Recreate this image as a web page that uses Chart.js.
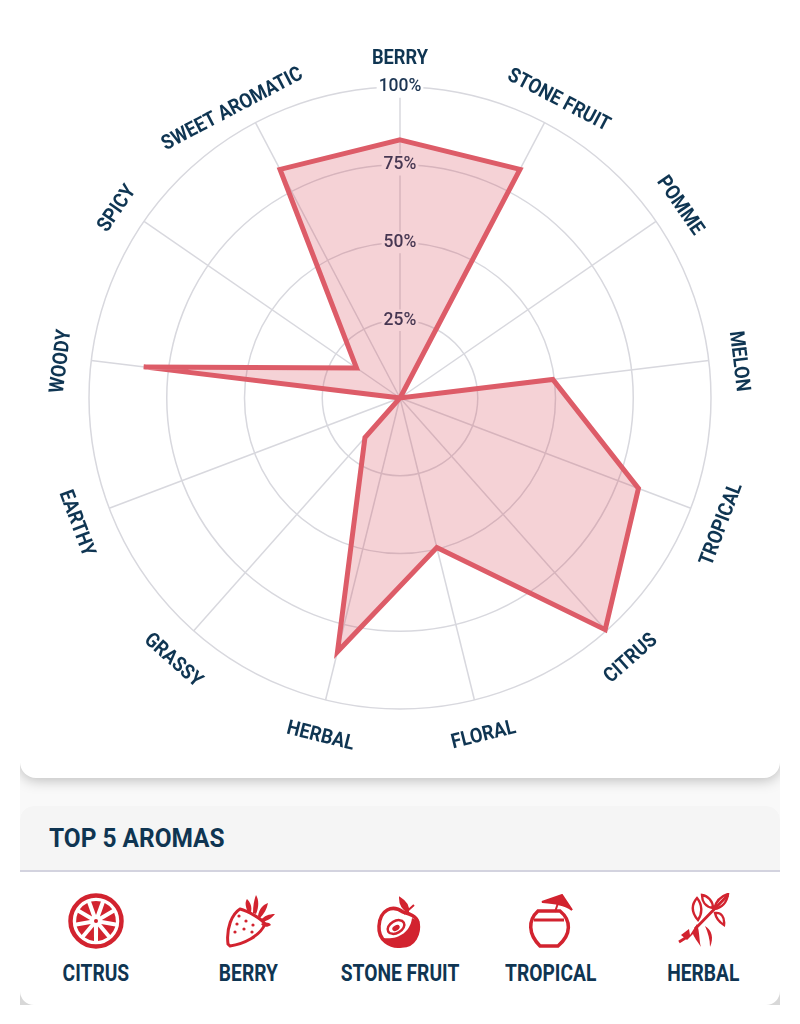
<!DOCTYPE html>
<html>
<head>
<meta charset="utf-8">
<title>Aroma wheel</title>
<script src="https://cdn.jsdelivr.net/npm/chart.js@4"></script>
<style>
  html, body { margin: 0; background: #fff; }
  body { width: 800px; height: 1024px; position: relative; overflow: hidden; font-family: Roboto, sans-serif; }
  .clip { position: absolute; left: 20px; top: 0; width: 760px; height: 1005px; overflow: hidden; background: linear-gradient(#f9f9f9 0 900px, #d8d8d8 900px); }
  .card { position: absolute; left: 0; top: -20px; width: 760px; height: 798px; background: #fff; border-radius: 16px; box-shadow: 0 2px 14px rgba(0, 0, 0, .26); }
  canvas { position: absolute; left: 0; top: 0; }
  .panel { position: absolute; left: 0; top: 806px; width: 760px; height: 199px; background: #fff; border-radius: 14px; overflow: hidden; }
  .head { height: 64px; background: #f5f5f5; border-bottom: 2px solid #d3d3df; }
  .head span { position: absolute; left: 29px; top: 17px; font-size: 26px; line-height: 30px; font-weight: 700; color: #0f3552; transform: scaleX(.94); transform-origin: left center; white-space: nowrap; }
  .aroma { position: absolute; top: 155px; width: 152px; text-align: center; font-size: 23px; line-height: 26px; font-weight: 700; color: #0f3552; }
  .aroma span { display: inline-block; transform: scaleX(.835); white-space: nowrap; }
  svg.icon { position: absolute; left: 0; top: 0; }
</style>
</head>
<body>
<div class="clip">
  <div class="card"></div>
  <div class="panel" id="panel"><div class="head"><span>TOP 5 AROMAS</span></div></div>
</div>
<canvas id="wheel" width="800" height="796"></canvas>
<script>
const categories = ['BERRY', 'STONE FRUIT', 'POMME', 'MELON', 'TROPICAL', 'CITRUS', 'FLORAL', 'HERBAL', 'GRASSY', 'EARTHY', 'WOODY', 'SPICY', 'SWEET AROMATIC'];
const aromaValues = [83, 83, 0, 49.5, 82, 99.5, 49.5, 84, 17, 0, 83, 17, 83];
const topAromas = ['CITRUS', 'BERRY', 'STONE FRUIT', 'TROPICAL', 'HERBAL'];

const navy = '#0f3552';

// small hand corrections so the rotated names sit where the reference has them
const labelNudge = {
  BERRY: [0, -3],
  POMME: [-1, -3],
  TROPICAL: [3, 1],
  CITRUS: [5, 1],
  FLORAL: [2, 2],
  HERBAL: [2, 3],
  GRASSY: [-1, 3],
  EARTHY: [-5, 0],
  SPICY: [-2, 0],
  'SWEET AROMATIC': [-9, 9],
};

// rotated category names, chart.js only does horizontal point labels
const rotatedLabels = {
  id: 'rotatedLabels',
  afterDraw(chart) {
    const scale = chart.scales.r;
    const ctx = chart.ctx;
    const step = 360 / categories.length;
    categories.forEach((name, i) => {
      const pos = scale.getPointPosition(i, scale.drawingArea + 30);
      const nudge = labelNudge[name] || [0, 0];
      const deg = i * step;
      const rot = deg > 90 && deg < 270 ? deg - 180 : deg;
      ctx.save();
      ctx.translate(pos.x + nudge[0], pos.y + 4.5 + nudge[1]);
      ctx.rotate(rot * Math.PI / 180);
      ctx.scale(0.89, 1);
      ctx.font = '700 20.5px Roboto';
      ctx.fillStyle = navy;
      ctx.textAlign = 'center';
      ctx.textBaseline = 'middle';
      ctx.fillText(name, 0, 0);
      ctx.restore();
    });
  },
};

new Chart(document.getElementById('wheel'), {
  type: 'radar',
  plugins: [rotatedLabels],
  data: {
    labels: categories,
    datasets: [{
      data: aromaValues,
      borderColor: '#dd5c68',
      backgroundColor: 'rgba(212, 62, 76, 0.23)',
      borderWidth: 5,
      borderJoinStyle: 'miter',
      pointRadius: 0,
      tension: 0,
    }],
  },
  options: {
    responsive: false,
    animation: false,
    layout: { padding: { top: 76, bottom: 75 } },
    plugins: { legend: { display: false }, tooltip: { enabled: false } },
    scales: {
      r: {
        min: 0,
        max: 100,
        ticks: {
          stepSize: 25,
          color: '#1c3553',
          font: { family: 'Roboto', size: 17.5, weight: '500' },
          backdropColor: '#fff',
          backdropPadding: 2,
          callback: (v) => v + '%',
        },
        grid: { circular: true, color: '#d8d8de', lineWidth: 1.5 },
        angleLines: { color: '#d8d8de', lineWidth: 1.5 },
        pointLabels: { display: false },
      },
    },
  },
});

function citrusIcon() {
  let wedges = '';
  for (let i = 0; i < 9; i++) {
    const a = (i * 40 - 90) * Math.PI / 180;
    const d = 0.25;
    const pt = (r, t) => `${(28 + r * Math.cos(t)).toFixed(1)} ${(28 + r * Math.sin(t)).toFixed(1)}`;
    wedges += `<path d="M${pt(6, a)} L${pt(20, a - d)} A20 20 0 0 1 ${pt(20, a + d)} Z" fill="#d2232f"/>`;
  }
  return `<circle cx="28" cy="28" r="25.5" fill="none" stroke="#d2232f" stroke-width="4.5"/>${wedges}<circle cx="28" cy="28" r="2" fill="#d2232f"/>`;
}

const icons = [
  citrusIcon(),
  '<path d="M4 50 C2 34 8 20 16 15 C24 17 38 25 41 30 C36 42 20 50 6 52 Z" fill="none" stroke="#d2232f" stroke-width="3"/>' +
    [[15, 22], [22, 27], [29, 31], [13, 30], [20, 35], [28, 38], [11, 38]].map((p) => `<circle cx="${p[0]}" cy="${p[1]}" r="1.6" fill="#d2232f"/>`).join('') +
    '<path d="M24 18 C21 12 21 8 23 5 C27 9 28 13 27 18 Z M29 19 C29 12 30 6 32 1 C35 6 35 13 32 20 Z M34 22 C35 16 38 11 44 9 C43 15 40 20 36 24 Z M37 26 C40 22 45 20 51 20 C47 25 43 27 38 28 Z M37 30 C41 28 45 28 47 31 C43 34 39 33 37 30 Z" fill="#d2232f"/>',
  '<path d="M27 18 C16 10 4 16 3 32 C2 46 14 54 26 52 C38 52 44 40 42 28 C40 22 34 20 27 18 Z" fill="none" stroke="#d2232f" stroke-width="3.5"/>' +
    '<path d="M42 27 C44 40 38 53 25 52 C16 52 10 48 7 44 C20 46 34 40 36 24 Z" fill="#d2232f"/>' +
    '<ellipse cx="20" cy="33" rx="9" ry="6" transform="rotate(-30 20 33)" fill="none" stroke="#d2232f" stroke-width="2.5"/>' +
    '<ellipse cx="20" cy="34" rx="4" ry="2.5" transform="rotate(-30 20 34)" fill="#d2232f"/>' +
    '<path d="M24 4 C29 7 33 11 32 18 C27 15 24 10 24 4 Z M28 20 L38 11" fill="#d2232f" stroke="#d2232f" stroke-width="2"/>',
  '<path d="M13 17 H35 C46 26 47 40 33 52 H15 C3 40 3 26 13 17 Z" fill="none" stroke="#d2232f" stroke-width="3.5"/>' +
    '<path d="M9 26 H39" fill="none" stroke="#d2232f" stroke-width="3"/>' +
    '<path d="M17 8 L37 1 L47 16 C40 10 28 9 17 8 Z M33 9 L30 18" fill="#d2232f" stroke="#d2232f" stroke-width="2"/>',
  '<path d="M4 49 L12 44 M20 36 L53 2" stroke="#d2232f" stroke-width="2.8" fill="none"/>' +
    '<path d="M23 27 C17 20 16 12 22 5 C27 11 28 20 23 27 Z M38 15 C30 14 27 8 27 2 C33 3 38 8 38 15 Z M39 16 C41 8 46 3 53 1 C52 9 47 15 39 16 Z M40 20 C46 19 50 24 49 32 C44 29 41 25 40 20 Z" fill="none" stroke="#d2232f" stroke-width="2.4"/>' +
    '<path d="M30 33 C37 37 39 45 35 54 C35 46 33 40 30 33 Z M6 42 L14 36 L15 42 L22 31 C25 40 24 48 26 54 C22 48 19 44 18 41 L12 47 Z" fill="#d2232f"/>',
];

const centers = [76, 228, 380, 531, 683];
const iconOffset = [[-28, 87], [-24, 88], [-24, 88], [-26, 88], [-28, 87]];
const panel = document.getElementById('panel');
topAromas.forEach((name, i) => {
  const label = document.createElement('div');
  label.className = 'aroma';
  label.style.left = (centers[i] - 76) + 'px';
  label.innerHTML = '<span>' + name + '</span>';
  panel.appendChild(label);
  const svg = document.createElementNS('http://www.w3.org/2000/svg', 'svg');
  svg.setAttribute('class', 'icon');
  svg.setAttribute('width', 60);
  svg.setAttribute('height', 60);
  svg.setAttribute('viewBox', '0 0 60 60');
  svg.style.left = (centers[i] + iconOffset[i][0]) + 'px';
  svg.style.top = iconOffset[i][1] + 'px';
  svg.innerHTML = icons[i];
  panel.appendChild(svg);
});
</script>
</body>
</html>
